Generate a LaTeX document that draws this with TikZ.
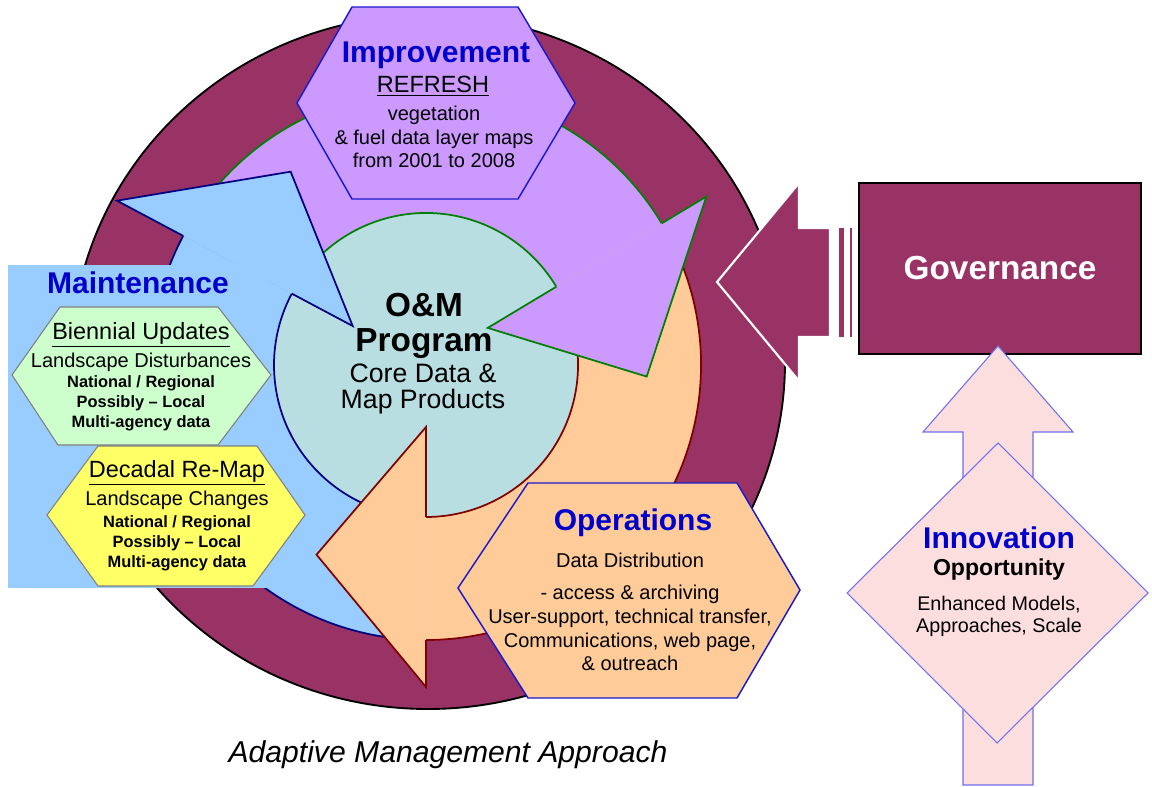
\documentclass[tikz,border=0pt]{standalone}
\usepackage{fontspec}
\setmainfont{Liberation Sans}
\usetikzlibrary{positioning}

\definecolor{wine}{HTML}{993366}
\definecolor{lilac}{HTML}{CC99FF}
\definecolor{peach}{HTML}{FFCC99}
\definecolor{sky}{HTML}{99CCFF}
\definecolor{coredata}{HTML}{B8DEE2}
\definecolor{mint}{HTML}{CCFFCC}
\definecolor{lemon}{HTML}{FFFF66}
\definecolor{blush}{HTML}{FCDEDE}
\definecolor{headblue}{HTML}{0000CC}
\definecolor{hexblue}{HTML}{1A1ACC}
\definecolor{innoline}{HTML}{7070F0}
\definecolor{ringgreen}{HTML}{008000}
\definecolor{ringred}{HTML}{800000}
\definecolor{ringnavy}{HTML}{000080}

\begin{document}
\begin{tikzpicture}[x=0.75pt, y=-0.75pt, every node/.style={inner sep=0pt, align=center}]
  % text and shape styles
  \tikzset{
    head/.style={font=\fontsize{22.5}{26}\selectfont\bfseries, text=headblue},
    sub/.style={font=\fontsize{17.6}{20}\selectfont},
    body/.style={font=\fontsize{15}{17.7}\selectfont},
    small/.style={font=\fontsize{12.3}{15}\selectfont\bfseries},
    ring/.style={line width=1.3pt},
    hexa/.style={line width=1.1pt, draw=hexblue},
    govbox/.style={draw=black, fill=wine, line width=1.1pt, minimum width=211.5pt, minimum height=128.3pt,
      text=white, font=\fontsize{25}{28}\selectfont\bfseries}
  }
  \useasboundingbox (0,0) rectangle (1152,787);

  % outer maroon disc
  \filldraw[fill=wine, draw=black, line width=1.4pt] (428,362) ellipse[x radius=357, y radius=347];

  % core circle and the three ring arrows (angles counted as usual, y up)
  \begin{scope}[shift={(426,365)}, yscale=-1]
    \fill[coredata] (0,0) circle[radius=152];
    % bodies
    \fill[lilac] (152:275) arc[start angle=152, end angle=31, radius=275] -- (31:152) arc[start angle=31, end angle=152, radius=152] -- cycle;
    \fill[peach] (31:275) arc[start angle=31, end angle=-90, radius=275] -- (-90:152) arc[start angle=-90, end angle=31, radius=152] -- cycle;
    \fill[sky] (270:275) arc[start angle=270, end angle=152, radius=275] -- (152:152) arc[start angle=152, end angle=270, radius=152] -- cycle;
    \draw[ring, ringgreen] (152:275) arc[start angle=152, end angle=31, radius=275];
    \draw[ring, ringgreen] (152:152) arc[start angle=152, end angle=31, radius=152];
    \draw[ring, ringred] (31:275) arc[start angle=31, end angle=-90, radius=275];
    \draw[ring, ringred] (31:152) arc[start angle=31, end angle=-90, radius=152];
    \draw[ring, ringnavy] (270:275) arc[start angle=270, end angle=152, radius=275];
    \draw[ring, ringnavy] (270:152) arc[start angle=270, end angle=152, radius=152];
    % heads
    \filldraw[ring, fill=lilac, draw=ringgreen] (31:152) -- (31:72) -- (-3:221) -- (31:327) -- (31:275);
    \filldraw[ring, fill=peach, draw=ringred] (-90:152) -- (-90:62) -- (-120:219) -- (-90:322) -- (-90:275);
    \filldraw[ring, fill=sky, draw=ringnavy] (152:152) -- (152:83) -- (125:236) -- (152:350) -- (152:275);
  \end{scope}

  % maintenance panel
  \fill[sky] (8,265) rectangle (268,588);

  % hexagons
  \filldraw[hexa, fill=lilac] (352,7) -- (518,7) -- (575,103) -- (518,199) -- (352,199) -- (297,103) -- cycle;
  \filldraw[hexa, fill=peach] (528,483) -- (737,483) -- (800,590) -- (737,698) -- (528,698) -- (458,588) -- cycle;
  \filldraw[line width=0.8pt, fill=mint, draw=gray] (60,307) -- (218,307) -- (271,375) -- (218,445) -- (58,445) -- (12,375) -- cycle;
  \filldraw[line width=0.8pt, fill=lemon, draw=gray] (98,446) -- (257,446) -- (305,515) -- (253,586) -- (98,586) -- (47,515) -- cycle;

  % governance box and its arrow
  \node[govbox] (gov) at (1000,268.5) {Governance};
  \filldraw[fill=wine, draw=white, line width=1.6pt] (717,282) -- (799,183) -- (799,228) -- (830,228) -- (830,337) -- (799,337) -- (799,381) -- cycle;
  \fill[wine] (839,228) rectangle (844,337);
  \fill[wine] (850,228) rectangle (852,337);

  % innovation arrow and diamond
  \filldraw[fill=blush, draw=innoline, line width=0.8pt] (998,346) -- (1073,432) -- (1033,432) -- (1033,785) -- (963,785) -- (963,432) -- (923,432) -- cycle;
  \filldraw[fill=blush, draw=innoline, line width=0.8pt] (998,443) -- (1148,593) -- (997,743) -- (847,593) -- cycle;

  % improvement text
  \node[head] (imphead) at (436,55) {Improvement};
  \node[sub] (refresh) at (433,86) {\underline{REFRESH}};
  \node[body] (imptext) at (434,137) {vegetation\\\& fuel data layer maps\\from 2001 to 2008};

  % maintenance text
  \node[head] (mainhead) at (138,283) {Maintenance};
  \node[sub] (biennial) at (141,335) {\underline{Biennial Updates}};
  \node[body] (disturb) at (141,362) {Landscape Disturbances};
  \node[small] (biennialtext) at (141,403) {National / Regional\\Possibly – Local\\Multi-agency data};
  \node[sub] (decadal) at (177,473) {\underline{Decadal Re-Map}};
  \node[body] (changes) at (177,500) {Landscape Changes};
  \node[small] (decadaltext) at (177,543) {National / Regional\\Possibly – Local\\Multi-agency data};

  % core text
  \node[font=\fontsize{25}{26}\selectfont\bfseries] (program) at (424,326) {O\&M\\Program};
  \node[font=\fontsize{20}{19.5}\selectfont] (core) at (423,389) {Core Data \&\\Map Products};

  % operations text
  \node[head] (opshead) at (633,523) {Operations};
  \node[body] (distrib) at (630,560) {Data Distribution};
  \node[body, font=\fontsize{15}{17.8}\selectfont] (opstext) at (630,628) {- access \& archiving\\User-support, technical transfer,\\Communications, web page,\\\& outreach};

  % innovation text
  \node[head] (innohead) at (999,538) {Innovation};
  \node[font=\fontsize{17.3}{20}\selectfont\bfseries] (opport) at (999,570) {Opportunity};
  \node[font=\fontsize{14.8}{16.5}\selectfont] (innotext) at (999,616) {Enhanced Models,\\Approaches, Scale};

  % caption
  \node[font=\fontsize{22.6}{26}\selectfont\itshape] (caption) at (448,755) {Adaptive Management Approach};
\end{tikzpicture}
\end{document}
